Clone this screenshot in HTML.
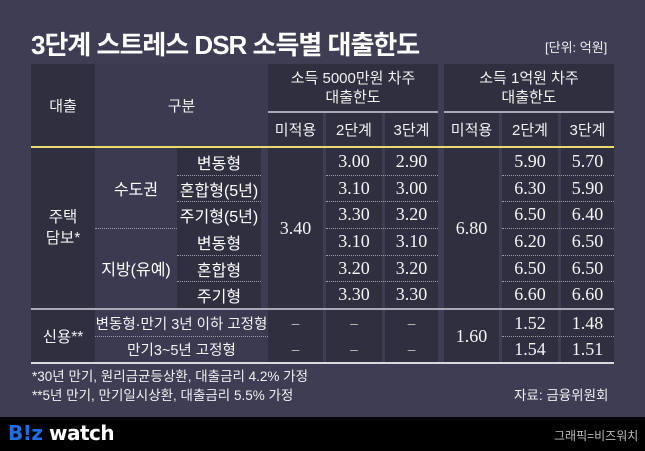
<!DOCTYPE html>
<html><head><meta charset="utf-8"><style>
*{margin:0;padding:0;box-sizing:border-box}
body{width:645px;height:451px;background:#3e3d53;position:relative;overflow:hidden;font-family:"Liberation Sans","Noto Sans CJK KR",sans-serif;color:#fff}
div{position:absolute}
.c{display:flex;align-items:center;justify-content:center;text-align:center;white-space:nowrap}
.d{background:#302f40}
.l{background:#3b3a51}
.h{font-size:15px;color:#f2f2f2}
.n{font-family:"Liberation Serif","DejaVu Serif",serif;font-size:18px;color:#f4f4f4}
.k{font-size:16px}
.dot{height:0;border-top:1px dotted #9a9aa8}
.dash{color:#bbb;font-size:14px}
</style></head><body>
<div style="left:31px;top:25px;font-size:26px;font-weight:bold;letter-spacing:-1px">3단계 스트레스 DSR 소득별 대출한도</div>
<div style="left:545px;top:37px;font-size:13px;color:#eee">[단위: 억원]</div>

<div class="c d h" style="left:31px;top:64px;width:64px;height:82px">대출</div>
<div class="c l h" style="left:95px;top:64px;width:173px;height:82px">구분</div>
<div class="c d h" style="left:268px;top:64px;width:170px;height:47px;line-height:19px">소득 5000만원 차주<br>대출한도</div>
<div class="c d h" style="left:444px;top:64px;width:170px;height:47px;line-height:19px">소득 1억원 차주<br>대출한도</div>
<div style="left:268px;top:111px;width:170px;height:2px;background:#a9a9b5"></div>
<div style="left:444px;top:111px;width:170px;height:2px;background:#a9a9b5"></div>
<div class="c d h" style="left:268px;top:113px;width:55px;height:33px">미적용</div>
<div class="c d h" style="left:326px;top:113px;width:56px;height:33px">2단계</div>
<div class="c d h" style="left:385px;top:113px;width:53px;height:33px">3단계</div>
<div class="c d h" style="left:444px;top:113px;width:55px;height:33px">미적용</div>
<div class="c d h" style="left:502px;top:113px;width:56px;height:33px">2단계</div>
<div class="c d h" style="left:561px;top:113px;width:53px;height:33px">3단계</div>
<div style="left:31px;top:146px;width:583px;height:2px;background:#f0d870"></div>

<div class="c d h" style="left:31px;top:148px;width:64px;height:160px;line-height:21px;font-size:15.5px">주택<br>담보*</div>
<div class="c l k" style="left:95px;top:148px;width:82px;height:80px">수도권</div>
<div class="c l k" style="left:95px;top:228px;width:82px;height:80px">지방(유예)</div>
<div class="dot" style="left:95px;top:228px;width:166px"></div>
<div class="d" style="left:177px;top:148px;width:84px;height:160px"></div>
<div class="c d n" style="left:268px;top:148px;width:55px;height:160px">3.40</div>
<div class="d" style="left:326px;top:148px;width:56px;height:160px"></div>
<div class="d" style="left:385px;top:148px;width:53px;height:160px"></div>
<div class="c d n" style="left:444px;top:148px;width:55px;height:160px">6.80</div>
<div class="d" style="left:502px;top:148px;width:56px;height:160px"></div>
<div class="d" style="left:561px;top:148px;width:53px;height:160px"></div>

<div class="c k" style="left:177px;top:148px;width:84px;height:27px">변동형</div>
<div class="c k" style="left:177px;top:175px;width:84px;height:27px">혼합형(5년)</div>
<div class="c k" style="left:177px;top:201px;width:84px;height:27px">주기형(5년)</div>
<div class="c k" style="left:177px;top:228px;width:84px;height:27px">변동형</div>
<div class="c k" style="left:177px;top:255px;width:84px;height:27px">혼합형</div>
<div class="c k" style="left:177px;top:281px;width:84px;height:27px">주기형</div>

<div class="c n" style="left:326px;top:148px;width:56px;height:27px">3.00</div>
<div class="c n" style="left:385px;top:148px;width:53px;height:27px">2.90</div>
<div class="c n" style="left:502px;top:148px;width:56px;height:27px">5.90</div>
<div class="c n" style="left:561px;top:148px;width:53px;height:27px">5.70</div>
<div class="c n" style="left:326px;top:175px;width:56px;height:27px">3.10</div>
<div class="c n" style="left:385px;top:175px;width:53px;height:27px">3.00</div>
<div class="c n" style="left:502px;top:175px;width:56px;height:27px">6.30</div>
<div class="c n" style="left:561px;top:175px;width:53px;height:27px">5.90</div>
<div class="c n" style="left:326px;top:201px;width:56px;height:27px">3.30</div>
<div class="c n" style="left:385px;top:201px;width:53px;height:27px">3.20</div>
<div class="c n" style="left:502px;top:201px;width:56px;height:27px">6.50</div>
<div class="c n" style="left:561px;top:201px;width:53px;height:27px">6.40</div>
<div class="c n" style="left:326px;top:228px;width:56px;height:27px">3.10</div>
<div class="c n" style="left:385px;top:228px;width:53px;height:27px">3.10</div>
<div class="c n" style="left:502px;top:228px;width:56px;height:27px">6.20</div>
<div class="c n" style="left:561px;top:228px;width:53px;height:27px">6.50</div>
<div class="c n" style="left:326px;top:255px;width:56px;height:27px">3.20</div>
<div class="c n" style="left:385px;top:255px;width:53px;height:27px">3.20</div>
<div class="c n" style="left:502px;top:255px;width:56px;height:27px">6.50</div>
<div class="c n" style="left:561px;top:255px;width:53px;height:27px">6.50</div>
<div class="c n" style="left:326px;top:281px;width:56px;height:27px">3.30</div>
<div class="c n" style="left:385px;top:281px;width:53px;height:27px">3.30</div>
<div class="c n" style="left:502px;top:281px;width:56px;height:27px">6.60</div>
<div class="c n" style="left:561px;top:281px;width:53px;height:27px">6.60</div>

<div class="dot" style="left:177px;top:175px;width:84px"></div>
<div class="dot" style="left:177px;top:201px;width:84px"></div>
<div class="dot" style="left:177px;top:255px;width:84px"></div>
<div class="dot" style="left:177px;top:281px;width:84px"></div>
<div class="dot" style="left:326px;top:175px;width:112px"></div>
<div class="dot" style="left:326px;top:201px;width:112px"></div>
<div class="dot" style="left:326px;top:228px;width:112px"></div>
<div class="dot" style="left:326px;top:255px;width:112px"></div>
<div class="dot" style="left:326px;top:281px;width:112px"></div>
<div class="dot" style="left:502px;top:175px;width:112px"></div>
<div class="dot" style="left:502px;top:201px;width:112px"></div>
<div class="dot" style="left:502px;top:228px;width:112px"></div>
<div class="dot" style="left:502px;top:255px;width:112px"></div>
<div class="dot" style="left:502px;top:281px;width:112px"></div>

<div style="left:31px;top:308px;width:583px;height:2px;background:#a9a9b5"></div>

<div class="c d h" style="left:31px;top:310px;width:64px;height:52px;font-size:15.5px">신용**</div>
<div class="c l h" style="left:95px;top:310px;width:173px;height:26px;font-size:14.5px">변동형·만기 3년 이하 고정형</div>
<div class="c l h" style="left:95px;top:336px;width:173px;height:26px;font-size:14.5px">만기3~5년 고정형</div>
<div class="dot" style="left:95px;top:336px;width:173px"></div>
<div class="c d dash" style="left:268px;top:310px;width:55px;height:26px">–</div>
<div class="c d dash" style="left:326px;top:310px;width:56px;height:26px">–</div>
<div class="c d dash" style="left:385px;top:310px;width:53px;height:26px">–</div>
<div class="c d dash" style="left:268px;top:336px;width:55px;height:26px">–</div>
<div class="c d dash" style="left:326px;top:336px;width:56px;height:26px">–</div>
<div class="c d dash" style="left:385px;top:336px;width:53px;height:26px">–</div>
<div class="c d n" style="left:444px;top:310px;width:55px;height:52px">1.60</div>
<div class="c d n" style="left:502px;top:310px;width:56px;height:26px">1.52</div>
<div class="c d n" style="left:561px;top:310px;width:53px;height:26px">1.48</div>
<div class="c d n" style="left:502px;top:336px;width:56px;height:26px">1.54</div>
<div class="c d n" style="left:561px;top:336px;width:53px;height:26px">1.51</div>
<div class="dot" style="left:502px;top:336px;width:112px"></div>
<div style="left:31px;top:362px;width:583px;height:2px;background:#d8d8de"></div>

<div style="left:32px;top:365px;font-size:13.5px;color:#f0f0f0">*30년 만기, 원리금균등상환, 대출금리 4.2% 가정</div>
<div style="left:32px;top:384px;font-size:13.5px;color:#f0f0f0">**5년 만기, 만기일시상환, 대출금리 5.5% 가정</div>
<div style="left:514px;top:384px;font-size:13.5px;color:#f0f0f0">자료: 금융위원회</div>

<div style="left:0;top:417px;width:645px;height:34px;background:#000"></div>
<div style="left:8px;top:421px;font-size:20px;font-weight:bold;letter-spacing:-0.5px;font-family:'DejaVu Sans','Liberation Sans',sans-serif"><span style="color:#1f6fe8">B!z</span> <span style="color:#fff">watch</span></div>
<div style="left:554px;top:427px;font-size:12px;color:#bbb">그래픽=비즈워치</div>
</body></html>
